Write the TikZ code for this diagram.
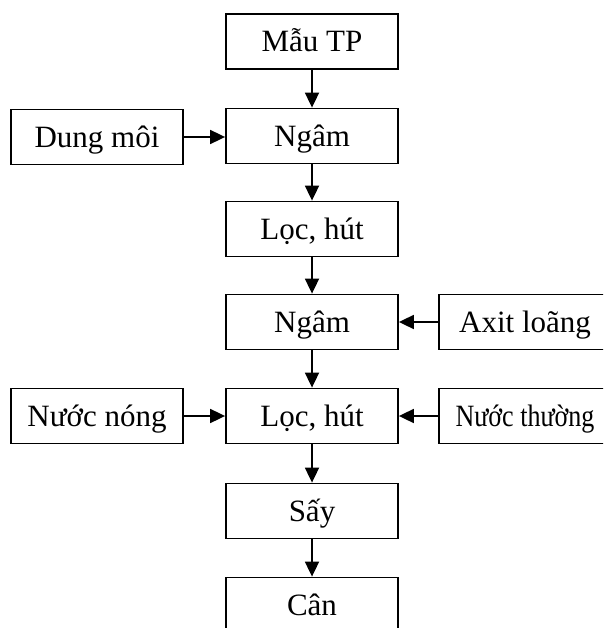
\documentclass[tikz,border=0pt]{standalone}
\usepackage{fontspec}
\setmainfont{Liberation Serif}
\usetikzlibrary{arrows.meta}
\begin{document}
\begin{tikzpicture}[x=1pt,y=-1pt,
  box/.style={draw,line width=1.8pt,minimum width=172pt,minimum height=55pt,inner sep=0pt,text height=20.6pt,text depth=0pt,font=\fontsize{31}{36}\selectfont},
  arr/.style={line width=1.8pt,-{Triangle[length=15pt,width=14pt]}}]
\clip (0,0) rectangle (603,628);
\node[box] (m) at (312,41.5) {Mẫu TP};
\node[box] (n1) at (312,136) {Ngâm};
\node[box] (d) at (97,137) {Dung môi};
\node[box] (l1) at (312,229) {Lọc, hút};
\node[box] (n2) at (312,322) {Ngâm};
\node[box] (a) at (525,322) {Axit loãng};
\node[box] (l2) at (312,416) {Lọc, hút};
\node[box] (nn) at (97,416) {Nước nóng};
\node[box] (nt) at (525,416) {\scalebox{0.84}[1]{Nước thường}};
\node[box] (s) at (312,511) {Sấy};
\node[box] (c) at (312,605) {Cân};
\draw[arr] (m) -- (n1);
\draw[arr] (d) -- (d -| n1.west);
\draw[arr] (n1) -- (l1);
\draw[arr] (l1) -- (n2);
\draw[arr] (a) -- (n2);
\draw[arr] (n2) -- (l2);
\draw[arr] (nn) -- (l2);
\draw[arr] (nt) -- (l2);
\draw[arr] (l2) -- (s);
\draw[arr] (s) -- (c);
\end{tikzpicture}
\end{document}
